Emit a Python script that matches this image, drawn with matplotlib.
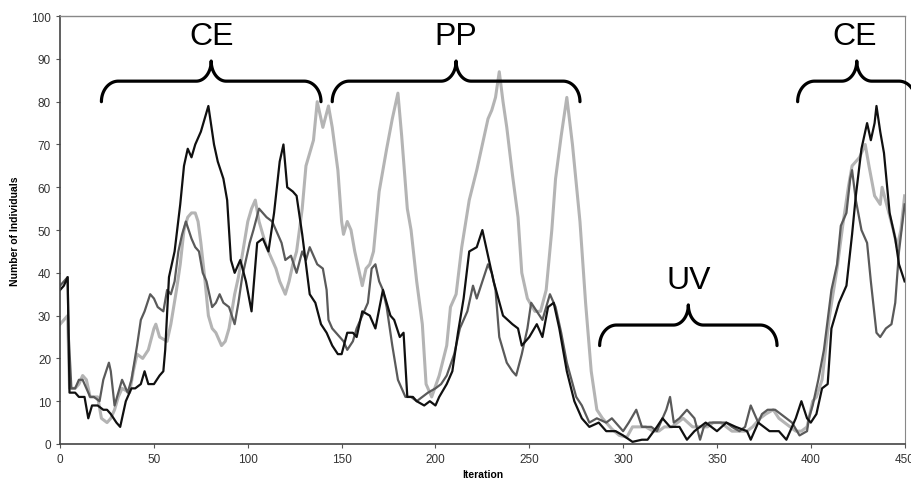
import matplotlib.pyplot as plt
import numpy as np

plt.rcParams['font.family'] = ['Liberation Sans', 'DejaVu Sans']

# series (iteration, number of individuals)
black_x = [0, 2, 4, 5, 8, 10, 13, 15, 17, 20, 23, 25, 27, 30, 32, 35, 38, 40, 43, 45, 47, 50, 53, 55, 56, 58,
           61, 64, 66, 68, 70, 72, 75, 77, 79, 80, 82, 84, 87, 89, 91, 93, 96, 99, 102, 105, 108, 111, 114, 117,
           119, 121, 124, 126, 129, 131, 133, 136, 139, 142, 145, 148, 150, 153, 156, 158, 161, 165, 168, 172,
           176, 178, 181, 183, 185, 188, 190, 194, 197, 200, 202, 206, 209, 212, 215, 218, 222, 225, 227, 231,
           236, 241, 244, 246, 250, 254, 257, 260, 263, 266, 270, 274, 278, 282, 287, 291, 296, 300, 305, 310,
           313, 318, 321, 325, 330, 334, 338, 341, 344, 350, 355, 360, 366, 368, 372, 378, 383, 387, 392, 395,
           398, 400, 403, 406, 409, 411, 415, 419, 422, 424, 427, 430, 432, 434, 435, 437, 439, 442, 445, 447, 450]
black_y = [36, 37, 39, 12, 12, 11, 11, 6, 9, 9, 8, 8, 7, 5, 4, 10, 13, 13, 14, 17, 14, 14, 16, 17, 22, 39,
           45, 56, 65, 69, 67, 70, 73, 76, 79, 76, 70, 66, 62, 57, 43, 40, 43, 38, 31, 47, 48, 45, 54, 66,
           70, 60, 59, 58, 49, 42, 35, 33, 28, 26, 23, 21, 21, 26, 26, 25, 31, 30, 27, 36,
           30, 29, 25, 26, 11, 11, 10, 9, 10, 9, 11, 14, 17, 26, 34, 45, 46, 50, 46, 38,
           30, 28, 27, 23, 25, 28, 25, 32, 33, 27, 17, 10, 6, 4, 5, 3, 3, 2, 0.5, 1,
           1, 4, 6, 4, 4, 1, 3, 4, 5, 3, 5, 4, 3, 1, 5, 3, 3, 1, 6, 10,
           6, 5, 7, 13, 14, 27, 33, 37, 49, 58, 69, 75, 71, 75, 79, 73, 68, 54, 48, 42, 38]

dark_x = [0, 2, 4, 4.5, 6, 8, 10, 12, 14, 16, 18, 21, 23, 26, 27, 29, 31, 33, 36, 38, 41, 43, 45, 48, 50, 52,
          55, 57, 59, 61, 63, 65, 67, 70, 72, 74, 76, 78, 81, 83, 85, 87, 90, 93, 95, 97, 99, 101, 103, 106,
          108, 110, 113, 116, 118, 120, 123, 126, 129, 131, 133, 135, 137, 140, 142, 143, 145, 149, 151, 153,
          156, 158, 161, 164, 166, 168, 170, 172, 174, 177, 180, 184, 187, 190, 193, 196, 200, 203, 206, 210,
          213, 217, 220, 222, 225, 228, 230, 232, 234, 238, 241, 243, 246, 249, 251, 254, 257, 261, 264, 267,
          270, 275, 278, 282, 286, 291, 294, 300, 303, 307, 310, 315, 318, 321, 323, 325, 327, 330, 334, 338,
          341, 343, 346, 350, 355, 358, 362, 365, 368, 372, 374, 377, 381, 384, 387, 390, 394, 398, 399, 401,
          404, 407, 411, 414, 416, 419, 421, 422, 424, 427, 430, 432, 435, 437, 440, 443, 445, 447, 450]
dark_y = [37, 38, 39, 26, 13, 13, 15, 15, 13, 11, 11, 10, 15, 19, 17, 9, 12, 15, 12, 15, 23, 29, 31, 35, 34, 32,
          31, 36, 35, 38, 45, 49, 52, 48, 46, 45, 40, 38, 32, 33, 35, 33, 32, 28, 33, 39, 43, 47, 50, 55,
          54, 53, 52, 49, 47, 43, 44, 40, 45, 43, 46, 44, 42, 41, 36, 29, 27, 25, 24, 22,
          24, 27, 30, 33, 41, 42, 38, 36, 32, 23, 15, 11, 11, 10, 11, 12, 13, 14, 16, 21,
          27, 31, 37, 34, 38, 42, 40, 36, 25, 19, 17, 16, 21, 27, 33, 31, 29, 35, 32, 26,
          19, 11, 9, 5, 6, 5, 6, 3, 5, 8, 4, 4, 3, 6, 8, 11, 5, 6, 8, 6,
          1, 4, 5, 5, 5, 4, 3, 4, 9, 5, 7, 8, 8, 7, 6, 5, 2, 3, 6, 9,
          15, 22, 36, 42, 51, 54, 62, 64, 57, 50, 47, 38, 26, 25, 27, 28, 33, 45, 56]

light_x = [0, 2, 4, 5, 8, 10, 12, 14, 16, 20, 22, 25, 27, 29, 31, 33, 37, 39, 41, 44, 47, 50, 51, 53, 57, 59,
           62, 64, 66, 68, 70, 72, 73.5, 75, 77, 79, 81, 83, 86, 88, 90, 93, 95, 97, 100, 102, 104, 106, 108, 110,
           113, 115, 117, 120, 122, 124, 126, 129, 131, 133, 135, 137, 140, 143, 145, 148, 150, 151, 153, 155,
           157, 159, 161, 163, 165, 167, 170, 174, 177, 180, 182, 185, 187, 190, 193, 195, 198, 202, 206, 208,
           211, 214, 218, 222, 225, 228, 230, 232, 234, 236, 238, 241, 244, 246, 249, 253, 256, 259, 262, 264,
           267, 270, 273, 277, 280, 283, 286, 289, 294, 298, 302, 305, 309, 312, 316, 319, 322, 326, 332, 337,
           341, 345, 348, 352, 355, 358, 362, 366, 369, 373, 376, 380, 383, 386, 389, 392, 395, 398, 401, 403,
           406, 410, 414, 417, 420, 422, 426, 429, 431, 434, 437, 438, 441, 444, 446, 448, 450]
light_y = [28, 29, 30, 13, 13, 14, 16, 15, 11, 11, 6, 5, 6, 8, 11, 13, 12, 17, 21, 20, 22, 27, 28, 25, 24, 28,
           36, 42, 50, 53, 54, 54, 52, 47, 39, 30, 27, 26, 23, 24, 27, 35, 39, 44, 52, 55, 57, 52, 49, 46,
           43, 41, 38, 35, 38, 42, 45, 55, 65, 68, 71, 80, 74, 79, 74, 64, 52, 49, 52, 50,
           45, 41, 37, 41, 42, 45, 59, 69, 76, 82, 72, 55, 50, 38, 28, 14, 11, 16, 23, 32,
           35, 46, 57, 64, 70, 76, 78, 81, 87, 80, 74, 63, 53, 40, 34, 31, 31, 36, 50, 62,
           72, 81, 70, 52, 33, 17, 8, 6, 3.5, 2, 1.6, 4, 4, 4, 3, 3, 4, 4, 6, 4,
           4, 4, 5, 5, 4, 3, 3, 3, 4, 6, 7, 8, 6, 5, 4, 3, 3, 4, 10, 11,
           15, 30, 41, 51, 60, 65, 67, 70, 65, 58, 56, 60, 55, 50, 46, 50, 58]

# phase annotations: label, start, end
phase_labels = ['CE', 'PP', 'UV', 'CE']
phase_start = [22, 145, 287.5, 393]
phase_end = [139, 277, 382, 456]
phase_base = [80, 80, 23, 80]


def brace(ax, x0, x1, y0, h=4.8, tip=4.7, rx=9.0, rt=8.0):
    xc = (x0 + x1) / 2
    t = np.linspace(np.pi, np.pi / 2, 30)
    ax_, ay_ = x0 + rx + rx * np.cos(t), y0 + h * np.sin(t)
    t2 = np.linspace(-np.pi / 2, 0, 30)
    bx, by = xc - rt + rt * np.cos(t2), y0 + h + tip + tip * np.sin(t2)
    xs = np.concatenate([ax_, bx])
    ys = np.concatenate([ay_, by])
    xs = np.concatenate([xs, 2 * xc - xs[::-1]])
    ys = np.concatenate([ys, ys[::-1]])
    ax.plot(xs, ys, color='black', lw=2.3, clip_on=False, solid_capstyle='round', zorder=5)


fig = plt.figure(figsize=(9.11, 4.89), dpi=100)
ax = fig.add_axes([0.066, 0.09, 0.927, 0.875])

ax.plot(light_x, light_y, color='#b4b4b4', lw=2.2)
ax.plot(dark_x, dark_y, color='#5a5a5a', lw=1.6)
ax.plot(black_x, black_y, color='#101010', lw=1.6)

for lab, s, e, b in zip(phase_labels, phase_start, phase_end, phase_base):
    brace(ax, s, e, b)
    ax.text((s + e) / 2 if e < 450 else 423.5, b + 13.5, lab, fontsize=23, ha='center',
            va='baseline', clip_on=False)

ax.set_xlim(0, 450)
ax.set_ylim(0, 100)
ax.set_xticks(range(0, 451, 50))
ax.set_yticks(range(0, 101, 10))
ax.tick_params(labelsize=8.5, labelcolor='#333333', color='#555555', length=3, width=0.8)
ax.set_xlabel('Iteration', fontsize=7.5, fontweight='bold', labelpad=3)
ax.set_ylabel('Number of Individuals', fontsize=7.5, fontweight='bold', labelpad=8)

for side in ['left', 'bottom']:
    ax.spines[side].set_linestyle((0, (1, 1)))
    ax.spines[side].set_color('#444444')
    ax.spines[side].set_linewidth(1.2)
ax.spines['right'].set_linestyle((0, (1, 1)))
ax.spines['right'].set_color('#888888')
ax.spines['top'].set_color('#888888')
ax.spines['top'].set_linewidth(1.0)

fig.savefig('out.png', dpi=100)
